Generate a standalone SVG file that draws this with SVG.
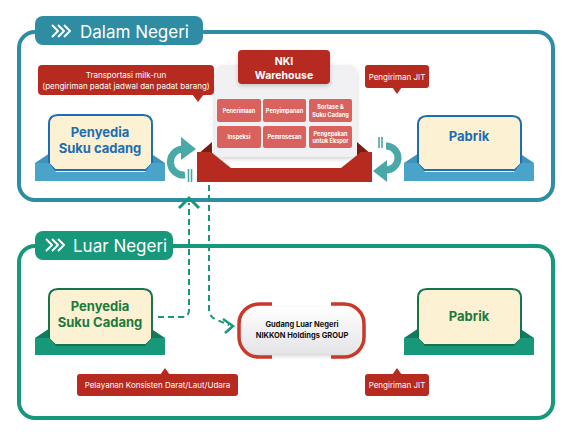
<svg xmlns="http://www.w3.org/2000/svg" width="572" height="436" viewBox="0 0 572 436">
<defs>
<style>
.t{font-family:Inter,"Noto Sans","Liberation Sans",sans-serif}
.tab{font-size:17px;fill:#fff}
.bub{font-size:8px;fill:#fff}
.cell{fill:#d9625e}
.ct{font-size:5.6px;font-weight:700;fill:#fff}
.blt{font-size:13px;font-weight:700;fill:#1c6db3}
.grt{font-size:13px;font-weight:700;fill:#1b7a3c}
.dash{fill:none;stroke:#17987a;stroke-width:2;stroke-dasharray:6 4}
.circ{fill:none;stroke:#4aa8a6;stroke-width:7}
.spd{stroke:#4aa8a6;stroke-width:1.6}
.chev{fill:none;stroke:#fff;stroke-width:2;stroke-linejoin:round}
</style>
<filter id="sh" x="-20%" y="-20%" width="140%" height="150%">
<feDropShadow dx="0" dy="2" stdDeviation="2" flood-color="#000" flood-opacity="0.18"/>
</filter>
<linearGradient id="gg" x1="0" y1="0" x2="0" y2="1">
<stop offset="0" stop-color="#ffffff"/><stop offset="1" stop-color="#e4e4e8"/>
</linearGradient>
</defs>

<!-- Panels -->
<g id="panel-dalam">
<rect x="19" y="32" width="534" height="168" rx="16" fill="#fff" stroke="#2e8ca3" stroke-width="4"/>
<rect x="35" y="16" width="168" height="29" rx="8" fill="#2e8ca3"/>
<polyline class="chev" points="52,25 58,31 52,37"/>
<polyline class="chev" points="58,25 64,31 58,37"/>
<polyline class="chev" points="64,25 70,31 64,37"/>
<text class="t tab" x="80" y="38">Dalam Negeri</text>
</g>
<g id="panel-luar">
<rect x="19" y="246" width="534" height="172" rx="16" fill="#fff" stroke="#17987a" stroke-width="4"/>
<rect x="35" y="231" width="138" height="29" rx="8" fill="#17987a"/>
<polyline class="chev" points="46,239 52,245 46,251"/>
<polyline class="chev" points="52,239 58,245 52,251"/>
<polyline class="chev" points="58,239 64,245 58,251"/>
<text class="t tab" x="73" y="252">Luar Negeri</text>
</g>

<!-- NKI Warehouse -->
<g id="nki-warehouse">
<rect x="215" y="65" width="142" height="92" rx="8" fill="#f1f1f3" filter="url(#sh)"/>
<rect class="cell" x="217" y="99" width="44" height="23" rx="2"/>
<rect class="cell" x="263" y="99" width="43" height="23" rx="2"/>
<rect class="cell" x="309" y="99" width="43" height="23" rx="2"/>
<rect class="cell" x="217" y="126" width="44" height="22" rx="2"/>
<rect class="cell" x="263" y="126" width="43" height="22" rx="2"/>
<rect class="cell" x="309" y="126" width="43" height="22" rx="2"/>
<text class="t ct" x="239" y="112.5" text-anchor="middle">Penerimaan</text>
<text class="t ct" x="284.5" y="112.5" text-anchor="middle">Penyimpanan</text>
<text class="t ct" x="330.5" y="109" text-anchor="middle">Sortase &amp;</text>
<text class="t ct" x="330.5" y="116.5" text-anchor="middle">Suku Cadang</text>
<text class="t ct" x="239" y="139" text-anchor="middle">Inspeksi</text>
<text class="t ct" x="284.5" y="139" text-anchor="middle">Pemrosesan</text>
<text class="t ct" x="330.5" y="135.5" text-anchor="middle">Pengepakan</text>
<text class="t ct" x="330.5" y="143" text-anchor="middle">untuk Ekspor</text>
<rect x="238" y="50" width="92" height="34" rx="4" fill="#b72a20" filter="url(#sh)"/>
<text class="t" x="284" y="65" text-anchor="middle" font-size="10.5" font-weight="700" fill="#fff">NKI</text>
<text class="t" x="284" y="79" text-anchor="middle" font-size="10.5" font-weight="700" fill="#fff">Warehouse</text>
<polygon points="197,155 212,142 212,155" fill="#7b1c12"/>
<polygon points="372,155 357,142 357,155" fill="#7b1c12"/>
<polygon points="197,152 211,152 231,168 341,168 361,152 372,152 372,182 197,182" fill="#b72a20"/>
</g>

<!-- Bubbles -->
<g id="bubble-milkrun">
<rect x="38" y="65" width="176" height="30" rx="4" fill="#b72a20"/>
<polygon points="192,94 204,94 198,102" fill="#b72a20"/>
<text class="t bub" x="126" y="78" text-anchor="middle">Transportasi milk-run</text>
<text class="t bub" x="126" y="89" text-anchor="middle">(pengiriman padat jadwal dan padat barang)</text>
</g>
<g id="bubble-jit-top">
<rect x="365" y="65" width="64" height="23" rx="3" fill="#b72a20"/>
<polygon points="392,87 402,87 397,94" fill="#b72a20"/>
<text class="t bub" x="397" y="79.5" text-anchor="middle">Pengiriman JIT</text>
</g>
<g id="bubble-konsisten">
<rect x="77" y="374" width="161" height="22" rx="3" fill="#b72a20"/>
<polygon points="160,375 170,375 165,368" fill="#b72a20"/>
<text class="t bub" x="157.5" y="388" text-anchor="middle">Pelayanan Konsisten Darat/Laut/Udara</text>
</g>
<g id="bubble-jit-bottom">
<rect x="365" y="374" width="64" height="22" rx="3" fill="#b72a20"/>
<polygon points="392,375 402,375 397,368" fill="#b72a20"/>
<text class="t bub" x="397" y="388" text-anchor="middle">Pengiriman JIT</text>
</g>

<!-- Dalam Negeri nodes -->
<g id="penyedia-dalam">
<polygon points="35,163 50,153 150,153 165,163" fill="#3d93bb"/>
<path d="M49,124 Q49,115 58,115 H143 Q152,115 152,124 V164 L146,170 H55 L49,164 Z" fill="#fdf1d4" stroke="#1c6db3" stroke-width="2"/>
<polygon points="35,163 49,163 56,172 145,172 152,163 165,163 165,181 35,181" fill="#4aa3c8"/>
<text class="t blt" x="100" y="137" text-anchor="middle">Penyedia</text>
<text class="t blt" x="100" y="152.5" text-anchor="middle">Suku cadang</text>
</g>
<g id="pabrik-dalam">
<polygon points="404,163 419,153 519,153 534,163" fill="#3d93bb"/>
<path d="M418,125 Q418,116 427,116 H512 Q521,116 521,125 V164 L515,170 H424 L418,164 Z" fill="#fdf1d4" stroke="#1c6db3" stroke-width="2"/>
<polygon points="404,163 418,163 425,172 514,172 521,163 534,163 534,181 404,181" fill="#4aa3c8"/>
<text class="t blt" x="469" y="141" text-anchor="middle">Pabrik</text>
</g>

<!-- Luar Negeri nodes -->
<g id="penyedia-luar">
<polygon points="35,338 50,328 150,328 165,338" fill="#127a60"/>
<path d="M49,298 Q49,289 58,289 H143 Q152,289 152,298 V339 L146,345 H55 L49,339 Z" fill="#fdf1d4" stroke="#17724e" stroke-width="2"/>
<polygon points="35,338 49,338 56,346 145,346 152,338 165,338 165,355 35,355" fill="#17987a"/>
<text class="t grt" x="100" y="311" text-anchor="middle">Penyedia</text>
<text class="t grt" x="100" y="326.5" text-anchor="middle">Suku Cadang</text>
</g>
<g id="pabrik-luar">
<polygon points="404,338 419,328 519,328 534,338" fill="#127a60"/>
<path d="M418,298 Q418,289 427,289 H512 Q521,289 521,298 V339 L515,345 H424 L418,339 Z" fill="#fdf1d4" stroke="#17724e" stroke-width="2"/>
<polygon points="404,338 418,338 425,346 514,346 521,338 534,338 534,355 404,355" fill="#17987a"/>
<text class="t grt" x="469" y="321" text-anchor="middle">Pabrik</text>
</g>
<g id="gudang-luar">
<rect x="241" y="307" width="121" height="47" rx="20" fill="url(#gg)" filter="url(#sh)"/>
<path d="M272,304 H259 A20 20 0 0 0 239,324 V337 A20 20 0 0 0 259,357 H272" fill="none" stroke="#c9392b" stroke-width="3.5"/>
<path d="M331,304 H344 A20 20 0 0 1 364,324 V337 A20 20 0 0 1 344,357 H331" fill="none" stroke="#c9392b" stroke-width="3.5"/>
<text class="t" x="302" y="327" text-anchor="middle" font-size="7.5" font-weight="700" fill="#111">Gudang Luar Negeri</text>
<text class="t" x="302" y="338" text-anchor="middle" font-size="7.5" font-weight="700" fill="#111">NIKKON Holdings GROUP</text>
</g>

<!-- Connectors -->
<g id="connectors">
<path class="circ" d="M185,175 A12 12 0 1 1 182,149"/>
<polygon points="181,137 196,149 181,160" fill="#4aa8a6"/>
<line class="spd" x1="188.5" y1="169" x2="188.5" y2="182"/>
<line class="spd" x1="191.5" y1="169" x2="191.5" y2="182"/>
<path class="circ" d="M386,146 A12 12 0 1 1 386,170"/>
<polygon points="387,160 373,171 387,182" fill="#4aa8a6"/>
<line class="spd" x1="379" y1="137" x2="379" y2="148"/>
<line class="spd" x1="382" y1="137" x2="382" y2="148"/>
<path class="dash" d="M158,317 H182 Q189,317 189,310 V203"/>
<polyline points="179,208 189,198 199,208" fill="none" stroke="#17987a" stroke-width="3"/>
<path class="dash" d="M209,185 V309 Q209,317 217,320 L229,325"/>
<polyline points="223,319 233,326 225,333" fill="none" stroke="#17987a" stroke-width="2.5"/>
</g>
</svg>
